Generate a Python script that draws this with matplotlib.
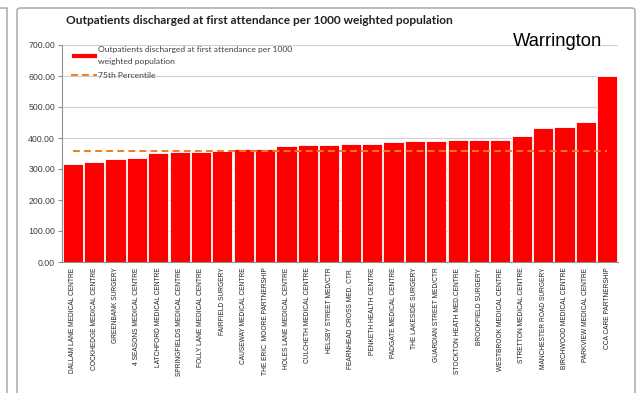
import matplotlib
matplotlib.use("Agg")
import matplotlib.pyplot as plt
from matplotlib.patches import FancyBboxPatch
from matplotlib.lines import Line2D

practices = [
    "DALLAM LANE MEDICAL CENTRE", "COCKHEDGE MEDICAL CENTRE", "GREENBANK SURGERY",
    "4 SEASONS MEDICAL CENTRE", "LATCHFORD MEDICAL CENTRE", "SPRINGFIELDS MEDICAL CENTRE",
    "FOLLY LANE MEDICAL CENTRE", "FAIRFIELD SURGERY", "CAUSEWAY MEDICAL CENTRE",
    "THE ERIC  MOORE PARTNERSHIP", "HOLES LANE MEDICAL CENTRE", "CULCHETH MEDICAL CENTRE",
    "HELSBY STREET MED/CTR", "FEARNHEAD CROSS MED. CTR.", "PENKETH HEALTH CENTRE",
    "PADGATE MEDICAL CENTRE", "THE LAKESIDE SURGERY", "GUARDIAN STREET MED/CTR",
    "STOCKTON HEATH MED.CENTRE", "BROOKFIELD SURGERY", "WESTBROOK MEDICAL CENTRE",
    "STRETTON MEDICAL CENTRE", "MANCHESTER ROAD SURGERY", "BIRCHWOOD MEDICAL CENTRE",
    "PARKVIEW MEDICAL CENTRE", "CCA CARE PARTNERSHIP",
]
discharge_rate = [
    316, 324, 331, 337, 351, 355, 356, 357, 364, 364, 374, 376,
    378, 380, 381, 386, 389, 389, 392, 392, 392, 405, 431, 434, 451, 600,
]
percentile_75 = 357
y_ticks = [0, 100, 200, 300, 400, 500, 600, 700]

W, H = 637, 393
fig = plt.figure(figsize=(W / 100, H / 100), dpi=100)
fig.patch.set_facecolor("white")

# panel frames
fig.add_artist(FancyBboxPatch((17 / W, -0.05), (635 - 17) / W, (H - 8) / H + 0.05,
                              boxstyle="round,pad=0,rounding_size=0.006",
                              transform=fig.transFigure, fill=False,
                              edgecolor="#b0b0b0", linewidth=1.2))
fig.add_artist(Line2D([0, 7 / W, 7 / W], [1 - 8 / H, 1 - 8 / H, 0],
                      transform=fig.transFigure, color="#b0b0b0", linewidth=1.2))

ax = fig.add_axes([62 / W, 1 - 262 / H, (618 - 62) / W, (262 - 45) / H])
x = list(range(len(practices)))
bars = ax.bar(x, discharge_rate, width=0.94, color="#ff0000", edgecolor="white",
              linewidth=0.6, zorder=2)
line, = ax.plot(x, [percentile_75] * len(x), color="#f07d1e", linestyle=(0, (3.5, 2.2)),
                linewidth=1.4, zorder=3)

ax.set_xlim(-0.5, len(practices) - 0.5)
ax.set_ylim(0, 700)
ax.set_yticks(y_ticks)
ax.set_yticklabels([f"{v:.2f}" for v in y_ticks], fontsize=6.3, color="#404040",
                   family=["Liberation Sans", "DejaVu Sans"])
ax.grid(axis="y", color="#d0d0d0", linewidth=0.8, zorder=0)
ax.set_xticks(x)
ax.set_xticklabels(practices, rotation=90, fontsize=4.8, color="#202020",
                   family=["Liberation Sans Narrow", "Liberation Sans", "DejaVu Sans"],
                   va="top")
ax.tick_params(axis="x", length=0, pad=4)
ax.tick_params(axis="y", length=3, color="#909090", pad=2)
for s in ["top", "right"]:
    ax.spines[s].set_visible(False)
ax.spines["left"].set_color("#909090")
ax.spines["bottom"].set_color("#909090")

leg = ax.legend([bars, line],
                ["Outpatients discharged at first attendance per 1000\nweighted population",
                 "75th Percentile"],
                loc="upper left", bbox_to_anchor=(0.008, 1.015), frameon=False,
                prop={"family": ["Lato", "DejaVu Sans"], "size": 6.1},
                handlelength=3.0, handleheight=0.5, handletextpad=0.15,
                labelspacing=0.85, borderaxespad=0.15)
for t in leg.get_texts():
    t.set_color("#404040")
    t.set_linespacing(1.75)

fig.text(66 / W, 1 - 21 / H, "Outpatients discharged at first attendance per 1000 weighted population",
         fontsize=8.6, fontweight="bold", family=["Lato", "DejaVu Sans"], color="#202020",
         va="center", ha="left")
fig.text(513 / W, 1 - 45.7 / H, "Warrington", fontsize=13.2,
         family=["Liberation Sans", "DejaVu Sans"], color="black", va="baseline", ha="left")

fig.savefig("out.png", dpi=100)
